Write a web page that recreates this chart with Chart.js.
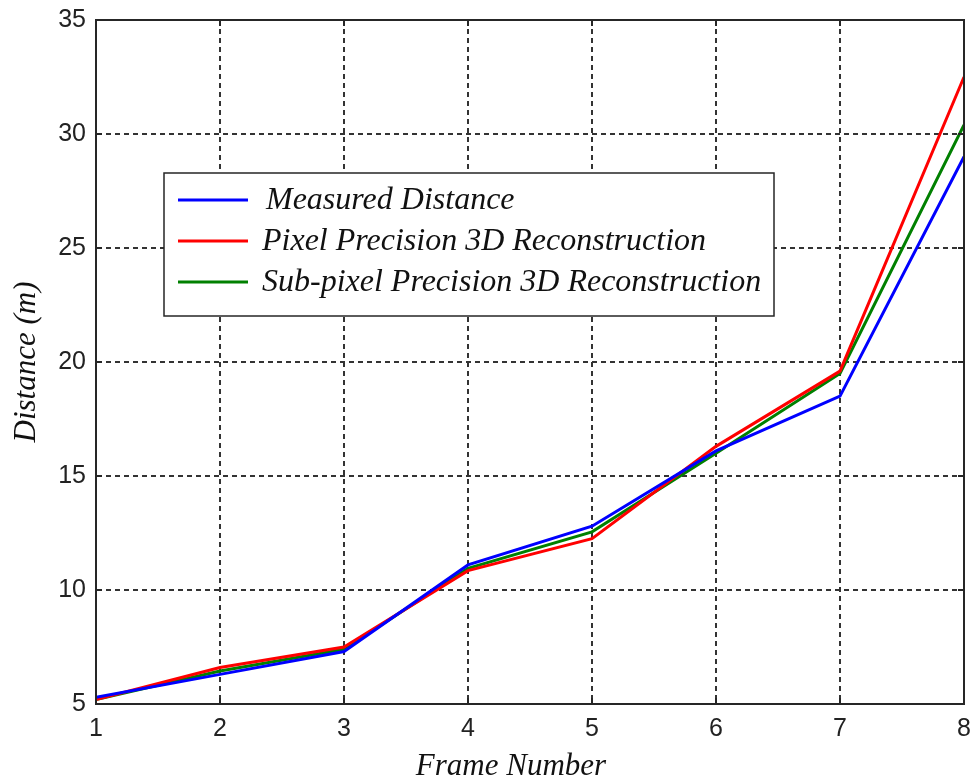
<!DOCTYPE html>
<html>
<head>
<meta charset="utf-8">
<script src="https://cdn.jsdelivr.net/npm/chart.js@4.4.1/dist/chart.umd.min.js"></script>
<style>
  html, body { margin: 0; padding: 0; background: #fff; }
  #wrap { width: 972px; height: 782px; }
</style>
</head>
<body>
<div id="wrap"><canvas id="c" width="972" height="782"></canvas></div>
<script>
// Frame index and distances (m) for each method
const frames = [1, 2, 3, 4, 5, 6, 7, 8];
const measured = [5.3, 6.3, 7.3, 11.1, 12.8, 16.1, 18.5, 29.0];
const pixelRecon = [5.2, 6.6, 7.5, 10.85, 12.25, 16.3, 19.6, 32.5];
const subpixelRecon = [5.2, 6.45, 7.4, 10.95, 12.55, 16.0, 19.5, 30.4];
const seriesLabels = ['Measured Distance', 'Pixel Precision 3D Reconstruction', 'Sub-pixel Precision 3D Reconstruction'];
const seriesColors = ['#0000ff', '#ff0000', '#008000'];
const xAxisTitle = 'Frame Number';

const toPoints = vals => frames.map((f, i) => ({ x: f, y: vals[i] }));

const AXIS_COLOR = '#262626';
const SERIF = '"Liberation Serif", "DejaVu Serif", serif';
const SANS = '"Liberation Sans", Arial, sans-serif';

// Axes frame with inward tick marks, drawn on top of the plot
const framePlugin = {
  id: 'frameBox',
  afterDatasetsDraw(chart) {
    const { ctx, chartArea: a, scales } = chart;
    ctx.save();
    ctx.strokeStyle = AXIS_COLOR;
    ctx.lineWidth = 2;
    ctx.setLineDash([]);
    ctx.beginPath();
    scales.x.ticks.forEach(t => {
      const px = scales.x.getPixelForValue(t.value);
      ctx.moveTo(px, a.bottom); ctx.lineTo(px, a.bottom - 6);
      ctx.moveTo(px, a.top); ctx.lineTo(px, a.top + 6);
    });
    scales.y.ticks.forEach(t => {
      const py = scales.y.getPixelForValue(t.value);
      ctx.moveTo(a.left, py); ctx.lineTo(a.left + 6, py);
      ctx.moveTo(a.right, py); ctx.lineTo(a.right - 6, py);
    });
    ctx.stroke();
    ctx.strokeRect(a.left, a.top, a.right - a.left, a.bottom - a.top);
    ctx.restore();
  }
};

// Boxed legend inside the plot area, plus the x-axis caption
const legendPlugin = {
  id: 'boxLegend',
  afterDraw(chart) {
    const { ctx } = chart;
    const box = { x: 164, y: 173, w: 610, h: 143 };
    ctx.save();
    ctx.fillStyle = '#ffffff';
    ctx.fillRect(box.x, box.y, box.w, box.h);
    ctx.strokeStyle = AXIS_COLOR;
    ctx.lineWidth = 1.5;
    ctx.strokeRect(box.x, box.y, box.w, box.h);
    chart.data.datasets.forEach((ds, i) => {
      const y = 200 + i * 41;
      ctx.strokeStyle = ds.borderColor;
      ctx.lineWidth = 3;
      ctx.beginPath();
      ctx.moveTo(178, y);
      ctx.lineTo(248, y);
      ctx.stroke();
      ctx.fillStyle = '#111';
      ctx.font = 'italic 32px ' + SERIF;
      ctx.textBaseline = 'middle';
      ctx.textAlign = 'left';
      ctx.fillText(ds.label, i === 0 ? 266 : 262, y + 1);
    });

    ctx.fillStyle = '#111';
    ctx.font = 'italic 31px ' + SERIF;
    ctx.textAlign = 'center';
    ctx.textBaseline = 'alphabetic';
    ctx.fillText(xAxisTitle, 511, 775);
    ctx.restore();
  }
};

new Chart(document.getElementById('c'), {
  type: 'line',
  data: {
    datasets: [
      { label: seriesLabels[0], data: toPoints(measured), borderColor: seriesColors[0] },
      { label: seriesLabels[1], data: toPoints(pixelRecon), borderColor: seriesColors[1] },
      { label: seriesLabels[2], data: toPoints(subpixelRecon), borderColor: seriesColors[2] }
    ].map(d => Object.assign(d, { borderWidth: 3, pointRadius: 0, tension: 0, fill: false }))
  },
  options: {
    responsive: false,
    animation: false,
    layout: { padding: { top: 20, right: 8, left: 0, bottom: 0 } },
    plugins: { legend: { display: false }, tooltip: { enabled: false } },
    scales: {
      x: {
        type: 'linear',
        min: 1, max: 8,
        afterFit(s) { s.height = 78; s.paddingLeft = 0; s.paddingRight = 0; },
        ticks: {
          stepSize: 1,
          padding: 10,
          color: '#222',
          font: { family: SANS, size: 25 }
        },
        grid: { color: '#333', lineWidth: 2, drawTicks: false },
        border: { display: true, color: AXIS_COLOR, width: 2, dash: [5, 4] },
        title: { display: false }
      },
      y: {
        type: 'linear',
        min: 5, max: 35,
        afterFit(s) { s.width = 96; s.paddingTop = 0; s.paddingBottom = 0; },
        ticks: {
          stepSize: 5,
          padding: 10,
          color: '#222',
          font: { family: SANS, size: 25 }
        },
        grid: { color: '#333', lineWidth: 2, drawTicks: false },
        border: { display: true, color: AXIS_COLOR, width: 2, dash: [5, 4] },
        title: {
          display: true,
          text: 'Distance (m)',
          color: '#111',
          padding: { top: 8, bottom: 0 },
          font: { family: SERIF, size: 31, style: 'italic' }
        }
      }
    }
  },
  plugins: [framePlugin, legendPlugin]
});
</script>
</body>
</html>
